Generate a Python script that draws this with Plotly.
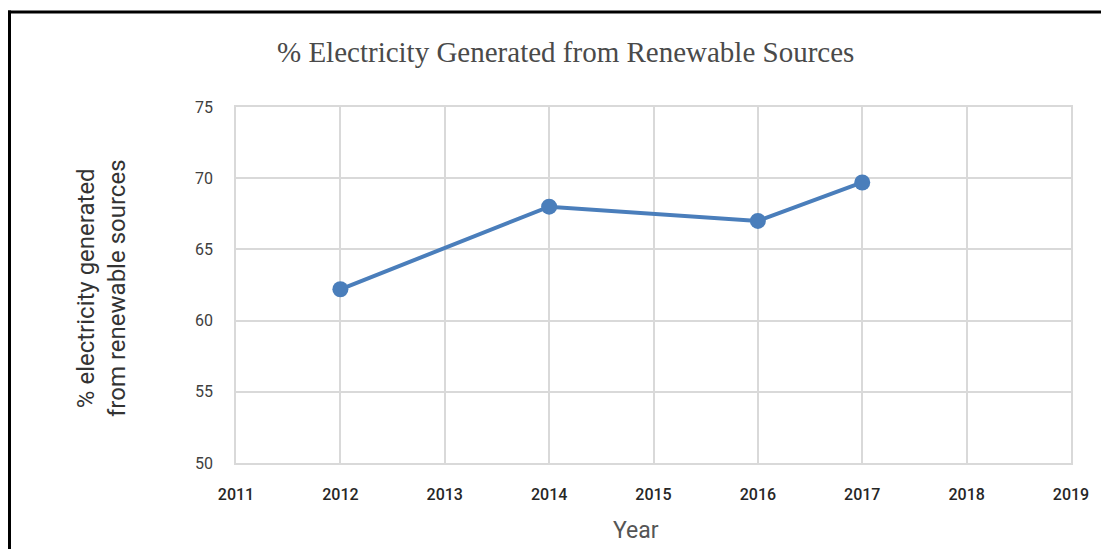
import plotly.graph_objects as go

years = [2012, 2014, 2016, 2017]
pct_renewable = [62.2, 68.0, 67.0, 69.7]
x_ticks = [2011, 2012, 2013, 2014, 2015, 2016, 2017, 2018, 2019]
y_ticks = [50, 55, 60, 65, 70, 75]

# page body has an 8px margin; work in reference pixels and shift
OFF = 8
W, H = 1109 - OFF, 549 - OFF
L, R, T, B = 236 - OFF, 1071 - OFF, 107 - OFF, 463 - OFF

fig = go.Figure()
fig.add_trace(go.Scatter(
    x=years, y=pct_renewable, mode="lines+markers",
    line=dict(color="#4a7ebb", width=4),
    marker=dict(color="#4a7ebb", size=16),
    showlegend=False, cliponaxis=False,
))

def px_x(p):
    return (p - OFF - L) / (R - L)

def px_y(p):
    return (B - (p - OFF)) / (B - T)

fig.update_layout(
    width=W, height=H,
    margin=dict(l=L, r=W - R, t=T, b=H - B, pad=0),
    paper_bgcolor="white", plot_bgcolor="white",
    xaxis=dict(range=[2011, 2019], tickvals=x_ticks, showgrid=True,
               gridcolor="#d9d9d9", gridwidth=1.5, zeroline=False,
               showline=True, linecolor="#d9d9d9", linewidth=1.5, mirror=True,
               ticks="outside", ticklen=16, tickcolor="rgba(0,0,0,0)",
               tickfont=dict(family="Roboto, Arial", size=16, color="#262626", weight=500)),
    yaxis=dict(range=[50, 75], tickvals=y_ticks, showgrid=True,
               gridcolor="#d9d9d9", gridwidth=1.5, zeroline=False,
               showline=True, linecolor="#d9d9d9", linewidth=1.5, mirror=True,
               ticks="outside", ticklen=18, tickcolor="rgba(0,0,0,0)",
               tickfont=dict(family="Roboto, Arial", size=16, color="#404040")),
)

fig.add_annotation(text="% Electricity Generated from Renewable Sources",
                   xref="paper", yref="paper", x=px_x(565), y=px_y(52),
                   xanchor="center", yanchor="middle", showarrow=False,
                   font=dict(family="Liberation Serif, Times New Roman", size=29, color="#4a4a4a"))
fig.add_annotation(text="% electricity generated<br>from renewable sources",
                   xref="paper", yref="paper", x=px_x(101), y=px_y(288),
                   xanchor="center", yanchor="middle", showarrow=False, textangle=-90,
                   font=dict(family="Roboto, Arial", size=24, color="#333333"))
fig.add_annotation(text="Year",
                   xref="paper", yref="paper", x=px_x(636), y=px_y(530),
                   xanchor="center", yanchor="middle", showarrow=False,
                   font=dict(family="Roboto, Arial", size=23, color="#555555"))

# outer frame (top and left only visible)
fig.add_shape(type="line", xref="paper", yref="paper", x0=px_x(8), x1=px_x(1109),
              y0=px_y(12), y1=px_y(12), line=dict(color="black", width=3))
fig.add_shape(type="line", xref="paper", yref="paper", x0=px_x(9.5), x1=px_x(9.5),
              y0=px_y(10.5), y1=px_y(549), line=dict(color="black", width=3))

fig.write_html("out.html")
